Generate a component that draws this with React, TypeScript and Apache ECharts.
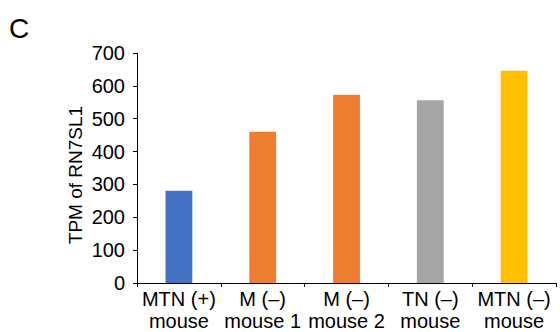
import React, { useEffect, useRef } from "react";
import * as echarts from "echarts";

const categories = ["MTN (+)\nmouse", "M (–)\nmouse 1", "M (–)\nmouse 2", "TN (–)\nmouse", "MTN (–)\nmouse"];
const values = [281, 460, 573, 556, 646];
const colors = ["#4472C4", "#ED7D31", "#ED7D31", "#A5A5A5", "#FFC000"];
const yTicks = { min: 0, max: 700, interval: 100 };
const yName = "TPM of RN7SL1";

export default function App() {
  const ref = useRef<HTMLDivElement>(null);
  useEffect(() => {
    if (!ref.current) return;
    const chart = echarts.init(ref.current, undefined, { renderer: "svg" });
    const font = "Liberation Sans, Arial, Helvetica, sans-serif";
    chart.setOption({
      animation: false,
      backgroundColor: "#ffffff",
      textStyle: { fontFamily: font },
      graphic: [
        {
          type: "text",
          left: 9,
          top: 14,
          style: { text: "C", fontSize: 28, fill: "#000", fontFamily: font },
        },
        {
          type: "text",
          x: 75,
          y: 175,
          rotation: Math.PI / 2,
          style: {
            text: yName,
            fontSize: 19,
            fill: "#000",
            fontFamily: font,
            textAlign: "center",
            textVerticalAlign: "middle",
          },
        },
      ],
      grid: { left: 137, right: 4, top: 53, bottom: 48, containLabel: false },
      xAxis: {
        type: "category",
        data: categories,
        axisLine: { show: true, lineStyle: { color: "#000", width: 1 } },
        axisTick: { show: true, alignWithLabel: false, length: 4, lineStyle: { color: "#000" } },
        axisLabel: {
          color: "#000",
          fontSize: 20,
          fontFamily: font,
          lineHeight: 22,
          margin: 5,
          interval: 0,
        },
      },
      yAxis: {
        type: "value",
        min: yTicks.min,
        max: yTicks.max,
        interval: yTicks.interval,
        axisLine: { show: true, lineStyle: { color: "#000", width: 1 } },
        axisTick: { show: true, length: 4, lineStyle: { color: "#000" } },
        axisLabel: { color: "#000", fontSize: 20, fontFamily: font, margin: 12 },
        splitLine: { show: false },
      },
      series: [
        {
          type: "bar",
          data: values.map((v, i) => ({ value: v, itemStyle: { color: colors[i] } })),
          barWidth: "32%",
        },
      ],
    });
    return () => chart.dispose();
  }, []);
  return <div ref={ref} style={{ width: 560, height: 332, position: "absolute", left: 0, top: 0 }} />;
}
